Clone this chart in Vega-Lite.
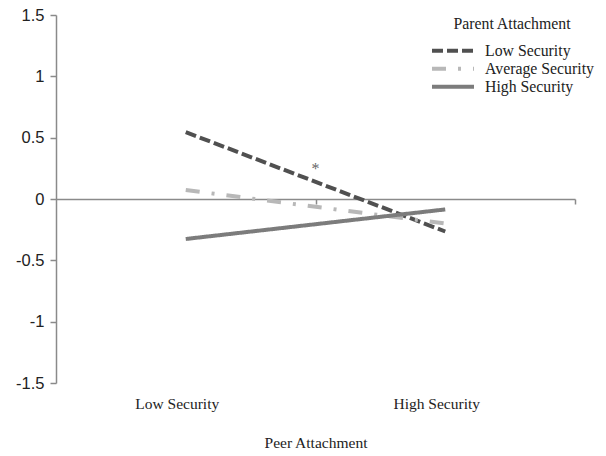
{
  "$schema": "https://vega.github.io/schema/vega-lite/v6.json",
  "width": 519,
  "height": 368,
  "autosize": {"type": "none"},
  "padding": {"left": 56, "top": 15, "right": 31, "bottom": 73},
  "background": "white",
  "config": {"view": {"stroke": null}, "font": "Liberation Serif"},
  "encoding": {
    "y": {
      "field": "value",
      "type": "quantitative",
      "scale": {"domain": [-1.5, 1.5], "nice": false, "zero": false},
      "axis": {
        "values": [-1.5, -1, -0.5, 0, 0.5, 1, 1.5],
        "labelExpr": "datum.value + ''",
        "grid": false,
        "domainColor": "#8a8a8a",
        "domainWidth": 1.5,
        "tickColor": "#8a8a8a",
        "tickWidth": 1.5,
        "tickSize": 6,
        "labelFont": "Liberation Sans",
        "labelFontSize": 16.5,
        "labelColor": "#222222",
        "labelPadding": 6,
        "title": null
      }
    }
  },
  "layer": [
    {
      "data": {
        "values": [
          {"parent": "Low Security", "peer": "Low Security", "peer_code": 0, "value": 0.545},
          {"parent": "Low Security", "peer": "High Security", "peer_code": 1, "value": -0.265},
          {"parent": "Average Security", "peer": "Low Security", "peer_code": 0, "value": 0.073},
          {"parent": "Average Security", "peer": "High Security", "peer_code": 1, "value": -0.2},
          {"parent": "High Security", "peer": "Low Security", "peer_code": 0, "value": -0.326},
          {"parent": "High Security", "peer": "High Security", "peer_code": 1, "value": -0.085}
        ]
      },
      "mark": {"type": "line", "strokeWidth": 4, "strokeCap": "butt"},
      "encoding": {
        "x": {
          "field": "peer_code",
          "type": "quantitative",
          "scale": {"domain": [-0.5, 1.5], "nice": false, "zero": false},
          "axis": {
            "orient": "bottom",
            "offset": -184,
            "values": [0.5, 1.5],
            "labels": false,
            "grid": false,
            "domainColor": "#8a8a8a",
            "domainWidth": 1.5,
            "tickColor": "#8a8a8a",
            "tickWidth": 1.5,
            "tickSize": 5,
            "title": null
          }
        },
        "color": {
          "field": "parent",
          "type": "nominal",
          "scale": {
            "domain": ["Low Security", "Average Security", "High Security"],
            "range": ["#505050", "#b8b8b8", "#7c7c7c"]
          },
          "legend": {
            "orient": "none",
            "legendX": 374,
            "legendY": 2,
            "title": "Parent Attachment",
            "titleFont": "Liberation Serif",
            "titleFontSize": 15.8,
            "titleFontWeight": "normal",
            "titleColor": "#222222",
            "titleAnchor": "middle",
            "titlePadding": 9,
            "labelFont": "Liberation Serif",
            "labelFontSize": 15.8,
            "labelColor": "#222222",
            "labelOffset": 9,
            "symbolType": "stroke",
            "symbolSize": 1764,
            "symbolStrokeWidth": 4,
            "clipHeight": 18,
            "rowPadding": 0
          }
        },
        "strokeDash": {
          "field": "parent",
          "type": "nominal",
          "scale": {
            "domain": ["Low Security", "Average Security", "High Security"],
            "range": [[11, 4], [14, 12, 3, 12], [1, 0]]
          }
        }
      }
    },
    {
      "data": {"values": [{"label": "*", "peer_code": 0.5, "value": 0.245}]},
      "mark": {"type": "text", "font": "Liberation Serif", "fontSize": 16, "color": "#666666", "baseline": "middle"},
      "encoding": {
        "x": {
          "field": "peer_code",
          "type": "quantitative",
          "axis": {
            "orient": "bottom",
            "values": [0, 1],
            "labelExpr": "datum.value == 0 ? 'Low Security' : 'High Security'",
            "domain": false,
            "ticks": false,
            "tickSize": 0,
            "grid": false,
            "labelFont": "Liberation Serif",
            "labelFontSize": 15.5,
            "labelColor": "#222222",
            "labelPadding": 13,
            "labelOffset": -9,
            "labelFlush": false,
            "labelOverlap": false,
            "title": "Peer Attachment",
            "titleFont": "Liberation Serif",
            "titleFontSize": 15.5,
            "titleFontWeight": "normal",
            "titleColor": "#222222",
            "titlePadding": 24
          }
        },
        "text": {"field": "label"}
      }
    }
  ],
  "resolve": {"axis": {"x": "independent"}}
}
